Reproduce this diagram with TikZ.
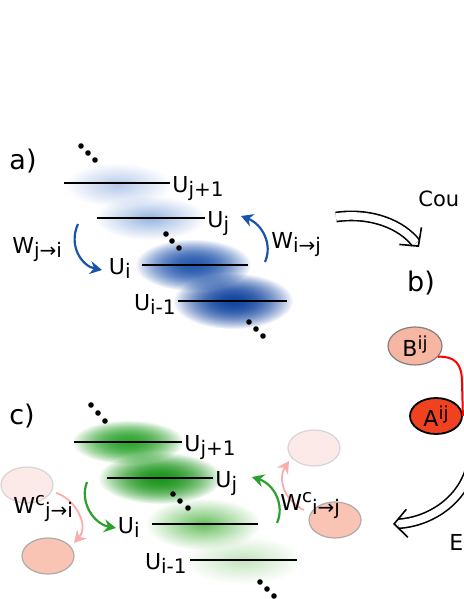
\documentclass[tikz,border=0pt]{standalone}
\usepackage{fontspec}
\setmainfont{DejaVu Sans}
\usetikzlibrary{arrows.meta,shapes.geometric,fadings,calc}

\definecolor{wblue}{RGB}{24,84,170}
\definecolor{wgreen}{RGB}{44,160,44}
\definecolor{wpink}{RGB}{250,172,172}
\definecolor{bred}{RGB}{240,66,32}
\definecolor{bsalmon}{RGB}{246,182,162}
\definecolor{cpale}{RGB}{252,234,232}
\definecolor{csalmon}{RGB}{249,196,180}
\definecolor{cedge}{RGB}{175,170,170}
% blob colours
\definecolor{ablob1}{RGB}{180,200,234}
\definecolor{ablob2}{RGB}{150,180,226}
\definecolor{ablob3}{RGB}{40,90,175}
\definecolor{ablob4}{RGB}{20,70,160}
\definecolor{cblob1}{RGB}{50,165,50}
\definecolor{cblob2}{RGB}{30,150,30}
\definecolor{cblob3}{RGB}{100,190,90}
\definecolor{cblob4}{RGB}{195,228,190}

% level subscripts / superscripts
\newcommand{\lsub}[1]{\raisebox{-2.3pt}{\fontsize{10}{10}\selectfont #1}}
\newcommand{\lsup}[1]{\raisebox{3.8pt}{\fontsize{9}{10}\selectfont #1}}

\tikzfading[name=blobfade, inner color=transparent!0, outer color=transparent!100]

\tikzset{
  lab/.style={font=\fontsize{11}{13}\selectfont, inner sep=1pt},
  panel/.style={font=\fontsize{13.5}{16}\selectfont, inner sep=0pt},
  level/.style={line width=0.7pt},
  dot/.style={circle, fill=black, inner sep=0pt, minimum size=2.8pt},
  hop/.style={line width=1.1pt, -{Stealth[length=6pt,width=6.5pt,inset=2pt]}},
  flow/.style={double, double distance=3.8pt, line width=0.8pt, shorten >=2.6pt},
  chev/.style={line width=0.8pt, -{Straight Barb[length=6.5pt,width=14pt]}},
  pop/.style={ellipse, draw=cedge, line width=0.6pt, minimum width=26pt, minimum height=18pt, inner sep=0pt, font=\fontsize{11}{13}\selectfont},
  blob/.style={fill=#1, path fading=blobfade},
}

\begin{document}
\begin{tikzpicture}[x=0.5pt, y=-0.5pt]
\useasboundingbox (0,0) rectangle (463,599);

% a) levels
\fill[blob=ablob1] (118,185) ellipse [x radius=27pt, y radius=11pt];
\fill[blob=ablob2] (150,218) ellipse [x radius=28pt, y radius=11pt];
\foreach \k in {1,2}{
  \fill[blob=ablob3] (193,265) ellipse [x radius=29pt, y radius=13pt];
  \fill[blob=ablob4] (233,301) ellipse [x radius=30pt, y radius=14pt];
}

\node[panel] (pa) at (23,161) {a)};
\draw[level] (64,183) -- (170,183) coordinate (aE1);
\draw[level] (97,218) -- (205,218) coordinate (aE2);
\draw[level] (142,265) -- (248,265);
\draw[level] (178,301) -- (287,301);
\node[lab, anchor=base west, yshift=-4.5pt] (aUj1) at (aE1) {U\lsub{j+1}};
\node[lab, anchor=base west, yshift=-4.5pt] (aUj) at (aE2) {U\lsub{j}};
\node[lab, anchor=base east, yshift=-4.5pt] (aUi) at (133,265) {U\lsub{i}};
\node[lab, anchor=base east, yshift=-4.5pt] (aUi1) at (178,301) {U\lsub{i-1}};
\foreach \p in {(81,146),(88,153),(95,160),(166,234),(172,241),(179,248),(249,322),(256,329),(263,336)}
  \node[dot] at \p {};

\node[lab, anchor=base west] (aWji) at (10,253) {W\lsub{j→i}};
\node[lab, anchor=base west] (aWij) at (269,248) {W\lsub{i→j}};
\coordinate (aA1) at (78,224);
\coordinate (aA2) at (102,270);
\coordinate (aB1) at (265,262);
\coordinate (aB2) at (241,216);
\draw[hop, wblue] (aA1) .. controls (68,246) and (82,266) .. (aA2);
\draw[hop, wblue] (aB1) .. controls (273,244) and (262,224) .. (aB2);

% coupling
\node[font=\fontsize{10.5}{12}\selectfont, anchor=west, inner sep=0pt] (cou) at (418,199) {Cou};
\coordinate (cpS) at (336,217);
\coordinate (cpC) at (402,225);
\coordinate (cpE) at (419,247);
\draw[flow] (cpS) .. controls (372,212) and (cpC) .. (cpE);
\draw[chev] ($(cpE)!1pt!(cpC)$) -- (cpE);

% b)
\node[panel] (pb) at (421,283) {b)};
\node[pop, fill=bsalmon, draw=gray, minimum width=27pt, minimum height=19pt] (Bij) at (415,346) {B\lsup{ij}};
\node[pop, fill=bred, draw=black, line width=0.9pt] (Aij) at (436,416) {A\lsup{ij}};
\coordinate (rb) at (462,382);
\draw[red, line width=1pt] (Bij.-25) .. controls (455,356) and (462,364) .. (rb) -- (Aij.east);

% energy
\coordinate (enS) at (472,462);
\coordinate (enC) at (430,522);
\coordinate (enE) at (393,524);
\draw[flow] (enS) .. controls (465,500) and (enC) .. (enE);
\draw[chev] ($(enE)!1pt!(enC)$) -- (enE);
\node[lab, anchor=base west, inner sep=0pt] (en) at (449,550) {E};

% c) levels
\foreach \k in {1,2}{
  \fill[blob=cblob1] (128,442) ellipse [x radius=28pt, y radius=11pt];
  \fill[blob=cblob2] (160,478) ellipse [x radius=31pt, y radius=13pt];
}
\fill[blob=cblob3] (203,524) ellipse [x radius=29pt, y radius=13pt];
\fill[blob=cblob4] (243,560) ellipse [x radius=30pt, y radius=12pt];

\node[panel] (pc) at (22,416) {c)};
\draw[level] (74,442) -- (182,442) coordinate (cE1);
\draw[level] (107,478) -- (213,478) coordinate (cE2);
\draw[level] (152,524) -- (258,524);
\draw[level] (190,560) -- (297,560);
\node[lab, anchor=base west, yshift=-4.5pt] (cUj1) at (cE1) {U\lsub{j+1}};
\node[lab, anchor=base west, yshift=-4.5pt] (cUj) at (cE2) {U\lsub{j}};
\node[lab, anchor=base east, yshift=-4.5pt] (cUi) at (142,524) {U\lsub{i}};
\node[lab, anchor=base east, yshift=-4.5pt] (cUi1) at (189,560) {U\lsub{i-1}};
\foreach \p in {(91,405),(98,413),(105,421),(173,494),(180,501),(188,508),(260,582),(267,589),(274,596)}
  \node[dot] at \p {};

\node[pop, fill=cpale, draw=cedge!50] (pTL) at (27,485) {};
\node[pop, fill=csalmon] (pBL) at (48,556) {};
\node[pop, fill=cpale, draw=cedge!50] (pTR) at (314,448) {};
\node[pop, fill=csalmon] (pBR) at (335,520) {};

\coordinate (cP1) at (56,493);
\coordinate (cP2) at (74,543);
\coordinate (cQ1) at (304,510);
\coordinate (cQ2) at (289,461);
\draw[hop, wpink, line width=0.9pt] (cP1) .. controls (74,498) and (90,525) .. (cP2);
\draw[hop, wpink, line width=0.9pt] (cQ1) .. controls (283,500) and (278,478) .. (cQ2);

\coordinate (cA1) at (87,482);
\coordinate (cA2) at (116,528);
\coordinate (cB1) at (277,523);
\coordinate (cB2) at (252,477);
\draw[hop, wgreen] (cA1) .. controls (79,502) and (94,524) .. (cA2);
\draw[hop, wgreen] (cB1) .. controls (285,505) and (274,484) .. (cB2);

\node[lab, anchor=base west] (cWji) at (11,513) {W\lsup{c}\lsub{j→i}};
\node[lab, anchor=base west] (cWij) at (278,510) {W\lsup{c}\lsub{i→j}};
\end{tikzpicture}
\end{document}
